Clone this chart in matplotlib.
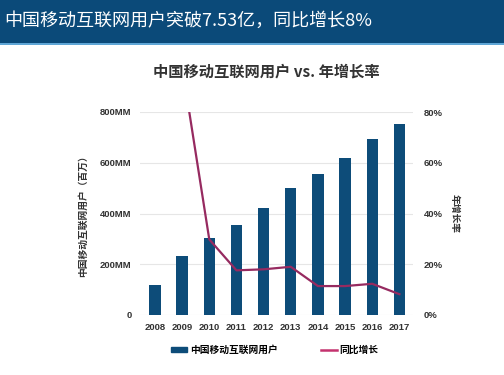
import matplotlib
matplotlib.use('Agg')
import matplotlib.pyplot as plt
from matplotlib.patches import Rectangle
from matplotlib.lines import Line2D
from matplotlib.ticker import FuncFormatter

plt.rcParams['font.family'] = ['Noto Sans CJK SC', 'DejaVu Sans']

years = ['2008', '2009', '2010', '2011', '2012', '2013', '2014', '2015', '2016', '2017']
users = [118, 233, 303, 356, 420, 500, 557, 620, 695, 753]   # 百万
growth = [None, 98.0, 29.8, 17.6, 18.0, 19.0, 11.4, 11.4, 12.3, 8.2]   # %

bar_color = '#0d4c79'
line_color = '#962a60'
text_color = '#333333'
tick_font = ['Liberation Sans', 'DejaVu Sans']

fig = plt.figure(figsize=(5.04, 3.75), dpi=100)

# top banner
fig.patches.append(Rectangle((0, 1 - 43 / 375), 1, 43 / 375, transform=fig.transFigure,
                             facecolor='#0b4a79', edgecolor='none', zorder=0))
fig.patches.append(Rectangle((0, 1 - 45 / 375), 1, 2 / 375, transform=fig.transFigure,
                             facecolor='#5fa6d6', edgecolor='none', zorder=0))
fig.text(4 / 504, 1 - 21 / 375, '中国移动互联网用户突破7.53亿，同比增长8%', color='white',
         fontsize=13, va='center', ha='left')

fig.text(266 / 504, 1 - 72 / 375, '中国移动互联网用户 vs. 年增长率', color=text_color,
         fontsize=11, fontweight='bold', ha='center', va='center')

ax = fig.add_axes([140 / 504, 1 - 315 / 375, 273 / 504, 203 / 375])
x = list(range(len(years)))
ax.bar(x, users, width=0.42, color=bar_color, zorder=2)
ax.set_ylim(0, 800)
ax.set_xlim(-0.55, 9.5)
ax.set_yticks([0, 200, 400, 600, 800])
ax.yaxis.set_major_formatter(FuncFormatter(lambda v, p: '0' if v == 0 else f'{int(v)}MM'))
ax.set_xticks(x)
ax.set_xticklabels(years)
ax.grid(axis='y', color='#e6e6e6', linewidth=0.8, zorder=0)
ax.set_axisbelow(True)
for s in ax.spines.values():
    s.set_visible(False)
ax.tick_params(length=0, labelsize=6.8, labelcolor=text_color, pad=6)
for lbl in ax.get_xticklabels() + ax.get_yticklabels():
    lbl.set_fontweight('bold')
    lbl.set_family(tick_font)
ax.set_ylabel('中国移动互联网用户（百万）', fontsize=7, fontweight='bold', color=text_color, labelpad=9)

ax2 = ax.twinx()
gx = [i for i, g in zip(x, growth) if g is not None]
gy = [g for g in growth if g is not None]
ax2.plot(gx, gy, color=line_color, linewidth=1.6, zorder=3)
ax2.set_ylim(0, 80)
ax2.set_yticks([0, 20, 40, 60, 80])
ax2.yaxis.set_major_formatter(FuncFormatter(lambda v, p: f'{int(v)}%'))
for s in ax2.spines.values():
    s.set_visible(False)
ax2.tick_params(length=0, labelsize=6.8, labelcolor=text_color, pad=8)
for lbl in ax2.get_yticklabels():
    lbl.set_fontweight('bold')
    lbl.set_family(tick_font)
ax2.set_ylabel('年增长率', fontsize=7, fontweight='bold', color=text_color, rotation=270, labelpad=12)

handles = [Rectangle((0, 0), 1, 1, color=bar_color),
           Line2D([0], [0], color='#c4326e', linewidth=1.8)]
fig.legend(handles, ['中国移动互联网用户', '同比增长'], loc='center',
           bbox_to_anchor=(275 / 504, 1 - 350 / 375), ncol=2, frameon=False,
           handlelength=1.6, handleheight=0.5, columnspacing=4.5, handletextpad=0.3,
           prop={'weight': 'bold', 'size': 7})

fig.savefig('out.png', dpi=100)
